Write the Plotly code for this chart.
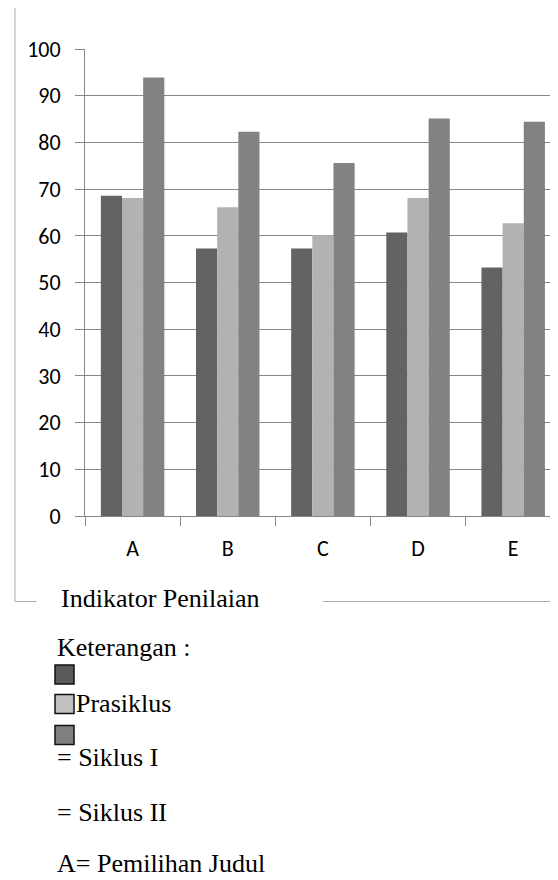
import plotly.graph_objects as go

categories = ["A", "B", "C", "D", "E"]
prasiklus = [68.6, 57.3, 57.3, 60.7, 53.2]
siklus_1 = [68.1, 66.1, 60.1, 68.1, 62.7]
siklus_2 = [93.9, 82.3, 75.6, 85.1, 84.4]
series_names = ["Prasiklus", "Siklus I", "Siklus II"]
series_colors = ["#636363", "#b2b2b2", "#828282"]
legend_colors = ["#5a5a5a", "#c0c0c0", "#808080"]
y_ticks = [0, 10, 20, 30, 40, 50, 60, 70, 80, 90, 100]

OFF = 8  # page body margin
W, H = 558, 880
L, R, T, B = 85 - OFF, OFF, 49 - OFF, 880 - (516 - OFF)
PW, PH = W - L - R, H - T - B


def px(x):
    return (x - OFF - L) / PW


def py(y):
    return (H - B - (y - OFF)) / PH


fig = go.Figure()
for name, vals, col in zip(series_names, [prasiklus, siklus_1, siklus_2], series_colors):
    fig.add_trace(go.Bar(x=categories, y=vals, name=name, marker=dict(color=col, line=dict(width=0)),
                         showlegend=False))

grey = "#888888"
border = "#a8a8a8"
fig.update_layout(
    width=W, height=H,
    margin=dict(l=L, r=R, t=T, b=B),
    paper_bgcolor="white", plot_bgcolor="white",
    barmode="group", bargap=0.333, bargroupgap=0,
    font=dict(family="Carlito, Lato, sans-serif", size=21, color="black"),
    xaxis=dict(type="category", range=[-0.5, 4.471], showgrid=False, showline=True, linecolor=grey,
               linewidth=1, ticks="outside", tickson="boundaries", ticklen=9, tickcolor=grey,
               tickfont=dict(size=22, color="black"), ticklabelstandoff=13),
    yaxis=dict(range=[0, 100], tickvals=y_ticks, showgrid=True, gridcolor=grey, gridwidth=1,
               zeroline=False, showline=True, linecolor=grey, linewidth=1, ticks="outside",
               ticklen=9, tickcolor=grey, tickfont=dict(size=22, color="black"), ticklabelstandoff=10),
)

shapes = []


def seg(x0, y0, x1, y1):
    shapes.append(dict(type="line", xref="paper", yref="paper", x0=px(x0), y0=py(y0), x1=px(x1), y1=py(y1),
                       line=dict(color=border, width=1)))


seg(15, 5.5, 15, 601.5)
seg(15, 5.5, 570, 5.5)
seg(15, 601.5, 36.5, 601.5)
seg(323, 601.5, 570, 601.5)

sq = 19
sq_tops = [665, 694.5, 725.5]
for top, col in zip(sq_tops, legend_colors):
    shapes.append(dict(type="rect", xref="paper", yref="paper", x0=px(55), x1=px(55 + sq),
                       y0=py(top + sq), y1=py(top), fillcolor=col, line=dict(color="#111111", width=1.5)))
fig.update_layout(shapes=shapes)

serif = dict(family="Liberation Serif, Times New Roman, serif", size=26, color="black")
texts = [
    ("Indikator Penilaian", 59, 598),
    ("Keterangan :", 55, 647),
    ("Prasiklus", 74, 703),
    ("= Siklus I", 55, 757),
    ("= Siklus II", 55, 812),
    ("A= Pemilihan Judul", 55, 864),
]
for t, x, y in texts:
    fig.add_annotation(text=t, xref="paper", yref="paper", x=px(x), y=py(y), xanchor="left",
                       yanchor="middle", showarrow=False, font=serif)

fig.write_html("out.html")
